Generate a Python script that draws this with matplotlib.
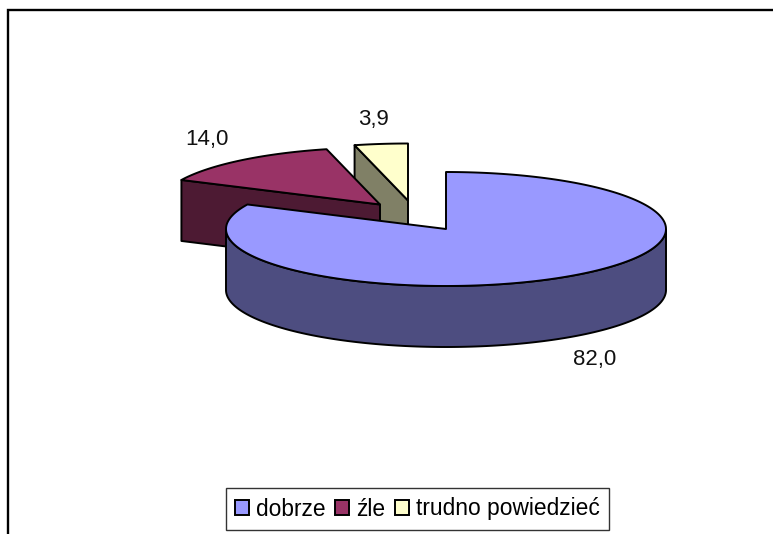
import matplotlib
matplotlib.use('Agg')
import matplotlib.pyplot as plt
from matplotlib.patches import Patch, Polygon
import numpy as np

# Values
labels = ['dobrze', 'źle', 'trudno powiedzieć']
values = [82.0, 14.0, 3.9]
value_labels = ['82,0', '14,0', '3,9']

top_colors = ['#9999FF', '#993366', '#FFFFCC']
side_colors = ['#4D4D80', '#4D1A33', '#808066']

# pie geometry in image pixels
centers = [(446, 229), (380, 204.5), (408, 200.5)]
rx, ry = 220, 57
depth = 61
label_pos = [(595, 360), (207, 140), (373, 120)]

plt.rcParams['font.family'] = ['Liberation Sans', 'DejaVu Sans']

fig = plt.figure(figsize=(7.73, 5.34), dpi=100)
ax = fig.add_axes([0, 0, 1, 1])
ax.set_xlim(0, 773)
ax.set_ylim(534, 0)
ax.axis('off')


def rim(cx, cy, a0, a1):
    # angles clockwise from 12 o'clock, degrees
    t = np.radians(np.linspace(a0, a1, 200))
    return np.column_stack([cx + rx*np.sin(t), cy - ry*np.cos(t)])


def draw_slice(center, a0, a1, top, side, z):
    cx, cy = center
    down = np.array([0, depth])
    # flat cut face at the start of the slice, only seen when it faces the viewer
    if 180 < a0 % 360 < 360 and a1 <= 360 and a1 - a0 < 180:
        p = rim(cx, cy, a0, a0)[0]
        apex = np.array([cx, cy])
        ax.add_patch(Polygon([p, apex, apex + down, p + down], fc=side,
                             ec='black', lw=1.4, joinstyle='round', zorder=z))
    # outer wall, front half only
    f0, f1 = max(a0, 90), min(a1, 270)
    if f1 > f0:
        edge = rim(cx, cy, f0, f1)
        wall = np.vstack([edge, (edge + down)[::-1]])
        ax.add_patch(Polygon(wall, fc=side, ec='black', lw=1.4, zorder=z))
    pts = np.vstack([[cx, cy], rim(cx, cy, a0, a1)])
    ax.add_patch(Polygon(pts, fc=top, ec='black', lw=1.4, joinstyle='round', zorder=z + 0.5))


fracs = np.array(values) / sum(values)
ends = np.cumsum(fracs) * 360
starts = np.concatenate([[0], ends[:-1]])

# back slices first so the big one covers them
for i in [2, 1, 0]:
    draw_slice(centers[i], starts[i], ends[i], top_colors[i], side_colors[i], 3 - i)

for (x, y), txt in zip(label_pos, value_labels):
    ax.text(x, y, txt, ha='center', va='center', fontsize=16, color='#111111', zorder=6)

# chart frame, runs off the right and bottom of the image
ax.plot([8, 8, 773], [534, 10, 10], color='black', lw=1.7, solid_joinstyle='miter',
        zorder=5)

handles = [Patch(fc=c, ec='black', lw=1.4) for c in top_colors]
leg = ax.legend(handles, labels, loc='center', bbox_to_anchor=(417.5, 509),
                bbox_transform=ax.transData, ncol=3, fontsize=16.4, frameon=True,
                fancybox=False, framealpha=1, edgecolor='#333333', borderpad=0.4,
                handlelength=0.6, handleheight=0.6, handletextpad=0.32,
                columnspacing=0.42, labelspacing=0, borderaxespad=0)
leg.get_frame().set_linewidth(1.0)
leg.set_zorder(6)

plt.savefig('out.png', dpi=100)
